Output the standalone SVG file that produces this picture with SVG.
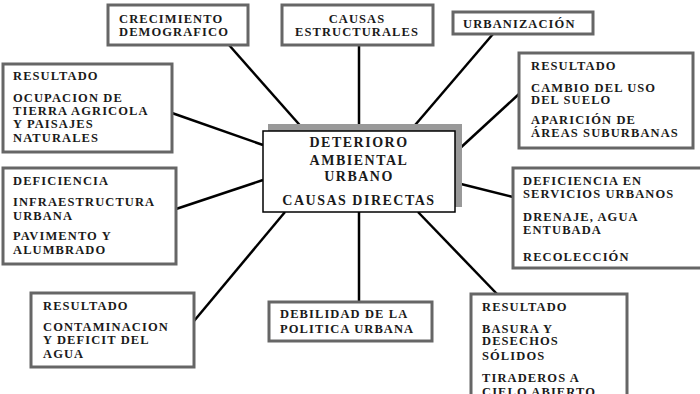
<svg xmlns="http://www.w3.org/2000/svg" width="700" height="394" viewBox="0 0 700 394">
<style>
.box{fill:#fff;stroke:#666;stroke-width:3}
.t{font-family:"Liberation Serif","Times New Roman",serif;font-weight:bold;font-size:12.5px;letter-spacing:1.1px;fill:#1a1a1a}
.c{font-family:"Liberation Serif","Times New Roman",serif;font-weight:bold;font-size:14px;letter-spacing:1.5px;fill:#1a1a1a;text-anchor:middle}
.m{text-anchor:middle}
.ln{stroke:#000;stroke-width:2.5;fill:none}
</style>
<rect width="700" height="394" fill="#fff"/>
<g id="connectors">
<line class="ln" x1="229" y1="45" x2="305" y2="131"/>
<line class="ln" x1="359" y1="45" x2="359" y2="131"/>
<line class="ln" x1="493" y1="34" x2="410" y2="131"/>
<line class="ln" x1="519" y1="94" x2="457" y2="151"/>
<line class="ln" x1="172" y1="113" x2="263" y2="145"/>
<line class="ln" x1="176" y1="209" x2="263" y2="180"/>
<line class="ln" x1="513" y1="197" x2="457" y2="183"/>
<line class="ln" x1="194" y1="321" x2="285" y2="212"/>
<line class="ln" x1="359" y1="212" x2="359" y2="302"/>
<line class="ln" x1="497" y1="294" x2="418" y2="212"/>
</g>
<g id="center">
<rect x="268" y="124" width="194" height="83" fill="#999"/>
<rect x="263" y="131" width="192" height="81" fill="#fff" stroke="#000" stroke-width="1.5"/>
<text class="c" x="359" y="147">DETERIORO</text>
<text class="c" x="359" y="165">AMBIENTAL</text>
<text class="c" x="359" y="181">URBANO</text>
<text class="c" x="359" y="205">CAUSAS DIRECTAS</text>
</g>
<g id="crecimiento">
<rect class="box" x="108" y="5" width="140" height="40"/>
<text class="t" x="119" y="23">CRECIMIENTO</text>
<text class="t" x="119" y="36">DEMOGRAFICO</text>
</g>
<g id="estructurales">
<rect class="box" x="282" y="5" width="151" height="40"/>
<text class="t m" x="357" y="23">CAUSAS</text>
<text class="t m" x="357" y="36">ESTRUCTURALES</text>
</g>
<g id="urbanizacion">
<rect class="box" x="453" y="12" width="140" height="22"/>
<text class="t" x="463" y="28">URBANIZACIÓN</text>
</g>
<g id="resultado-suelo">
<rect class="box" x="519" y="53" width="174" height="95"/>
<text class="t" x="531" y="70">RESULTADO</text>
<text class="t" x="531" y="92">CAMBIO DEL USO</text>
<text class="t" x="531" y="104">DEL SUELO</text>
<text class="t" x="531" y="124">APARICIÓN DE</text>
<text class="t" x="531" y="137">ÁREAS SUBURBANAS</text>
</g>
<g id="resultado-tierra">
<rect class="box" x="3" y="64" width="169" height="88"/>
<text class="t" x="13" y="80">RESULTADO</text>
<text class="t" x="13" y="102">OCUPACION DE</text>
<text class="t" x="13" y="115">TIERRA AGRICOLA</text>
<text class="t" x="13" y="128">Y PAISAJES</text>
<text class="t" x="13" y="142">NATURALES</text>
</g>
<g id="deficiencia-infra">
<rect class="box" x="3" y="168" width="173" height="96"/>
<text class="t" x="13" y="185">DEFICIENCIA</text>
<text class="t" x="13" y="206">INFRAESTRUCTURA</text>
<text class="t" x="13" y="220">URBANA</text>
<text class="t" x="13" y="240">PAVIMENTO Y</text>
<text class="t" x="13" y="254">ALUMBRADO</text>
</g>
<g id="deficiencia-servicios">
<rect class="box" x="513" y="168" width="200" height="100"/>
<text class="t" x="523" y="185">DEFICIENCIA EN</text>
<text class="t" x="523" y="198">SERVICIOS URBANOS</text>
<text class="t" x="523" y="221">DRENAJE, AGUA</text>
<text class="t" x="523" y="234">ENTUBADA</text>
<text class="t" x="523" y="261">RECOLECCIÓN</text>
</g>
<g id="resultado-agua">
<rect class="box" x="31" y="293" width="163" height="74"/>
<text class="t" x="43" y="310">RESULTADO</text>
<text class="t" x="43" y="331">CONTAMINACION</text>
<text class="t" x="43" y="344">Y DEFICIT DEL</text>
<text class="t" x="43" y="358">AGUA</text>
</g>
<g id="debilidad">
<rect class="box" x="269" y="302" width="163" height="39"/>
<text class="t" x="280" y="318">DEBILIDAD DE LA</text>
<text class="t" x="280" y="333">POLITICA URBANA</text>
</g>
<g id="resultado-basura">
<rect class="box" x="471" y="294" width="156" height="120"/>
<text class="t" x="482" y="311">RESULTADO</text>
<text class="t" x="482" y="333">BASURA Y</text>
<text class="t" x="482" y="345">DESECHOS</text>
<text class="t" x="482" y="360">SÓLIDOS</text>
<text class="t" x="482" y="382">TIRADEROS A</text>
<text class="t" x="482" y="396">CIELO ABIERTO</text>
</g>
</svg>
